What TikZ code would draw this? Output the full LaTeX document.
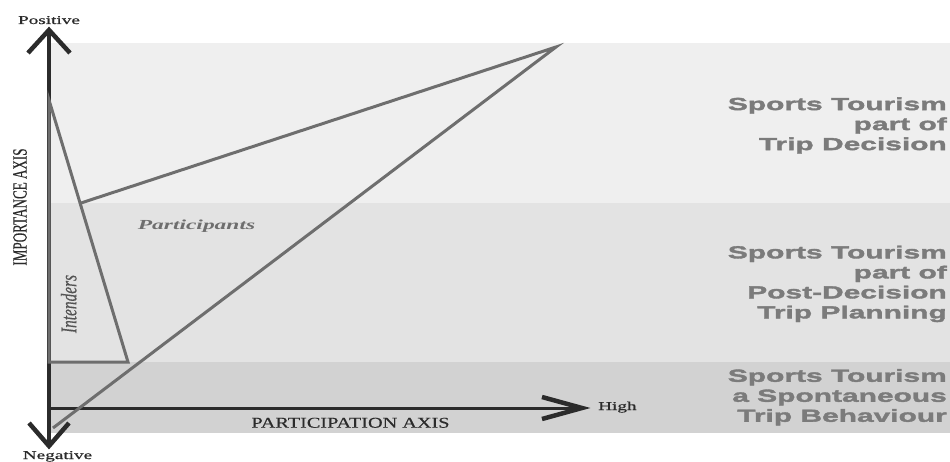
\documentclass[tikz,border=0pt]{standalone}
\usepackage{fontspec}
\usepackage{graphicx}
\setmainfont{Liberation Serif}
\newfontfamily\axisfont[FakeStretch=1.6,FakeBold=0.6]{Liberation Serif}
\newfontfamily\paxisfont[FakeStretch=1.35,FakeBold=0.3]{Liberation Serif}
\newfontfamily\partfont[FakeStretch=1.7]{Liberation Serif}
\newfontfamily\zonefont[FakeStretch=1.71,FakeBold=2]{Liberation Sans}
\newfontfamily\rotfont[FakeBold=0.4]{Liberation Serif}
\definecolor{bandtop}{HTML}{EFEFEF}
\definecolor{bandmid}{HTML}{E3E3E3}
\definecolor{bandlow}{HTML}{D2D2D2}
\definecolor{axisdark}{HTML}{2B2B2B}
\definecolor{graylinec}{HTML}{6E6E6E}
\definecolor{zonetext}{HTML}{7B7B7B}
\begin{document}
\begin{tikzpicture}[x=1pt,y=-1pt,
  axisline/.style={draw=axisdark,line width=3.2pt},
  vhead/.style={draw=axisdark,line width=4.5pt,line join=miter},
  grayline/.style={draw=graylinec,line width=3pt,line join=miter},
  axlabel/.style={inner sep=0pt,text=axisdark,font=\axisfont\fontsize{12}{14}\selectfont},
  zonelabel/.style={inner sep=0pt,align=right,anchor=north east,text=zonetext,
    font=\zonefont\bfseries\fontsize{17.5}{20}\selectfont},
  grouplabel/.style={inner sep=0pt,text=graylinec}]
\useasboundingbox (0,0) rectangle (950,462);
\clip (0,0) rectangle (950,462);
\fill[white] (0,0) rectangle (950,462);
% bands
\fill[bandtop] (49,43) rectangle (950,203);
\fill[bandmid] (49,203) rectangle (950,362);
\fill[bandlow] (49,362) rectangle (950,433);
% coordinates
\coordinate (O) at (49,408);
\coordinate (T) at (49,30);
\coordinate (B) at (49,446);
\coordinate (R) at (582,408);
\coordinate (I1) at (49,100);
\coordinate (I2) at (128,362);
\coordinate (I3) at (49,362);
\coordinate (P0) at (53,428);
\coordinate (A) at (556,47);
\coordinate (P2) at (81,203);
% axes
\draw[axisline] (T) -- (B);
\draw[axisline,line width=3pt] (O) -- (R);
\draw[vhead] (T) ++(-21,23) -- (T) -- ++(21,23);
\draw[vhead] (B) ++(-20,-23) -- (B) -- ++(20,-23);
\draw[vhead] (R) ++(-40,-11) -- (R) -- ++(-40,11);
% intenders triangle
\draw[grayline] (I1) -- (I2) -- (I3) -- cycle;
% participants
\draw[grayline] (P0) -- (A) -- (P2);
% axis labels
\node[axlabel,anchor=base] (pos) at (49,24) {Positive};
\node[axlabel,anchor=base] (neg) at (57.5,459) {Negative};
\node[axlabel,anchor=base west] (high) at (598,410) {High};
\node[inner sep=0pt,text=axisdark,anchor=base,font=\paxisfont\fontsize{15}{17}\selectfont] (pax) at (350.5,427.7) {PARTICIPATION AXIS};
\node[inner sep=0pt,text=axisdark] (iax) at (20,207) {\scalebox{1.55}[1]{\rotatebox{90}{\rotfont\fontsize{13.1}{15}\selectfont IMPORTANCE AXIS}}};
% group labels
\node[grouplabel,anchor=base,font=\partfont\bfseries\itshape\fontsize{13.8}{16}\selectfont] (part) at (196.5,230) {Participants};
\node[grouplabel,text=graylinec!75!black] (int) at (68.7,304) {\scalebox{1.45}[1]{\rotatebox{90}{\rotfont\fontsize{15.4}{18}\itshape\selectfont Intenders}}};
% zone labels
\node[zonelabel] (z1) at (947,97.2) {Sports Tourism\\part of\\Trip Decision};
\node[zonelabel] (z2) at (947,245.5) {Sports Tourism\\part of\\Post-Decision\\Trip Planning};
\node[zonelabel] (z3) at (947,368.9) {Sports Tourism\\a Spontaneous\\Trip Behaviour};
\end{tikzpicture}
\end{document}
